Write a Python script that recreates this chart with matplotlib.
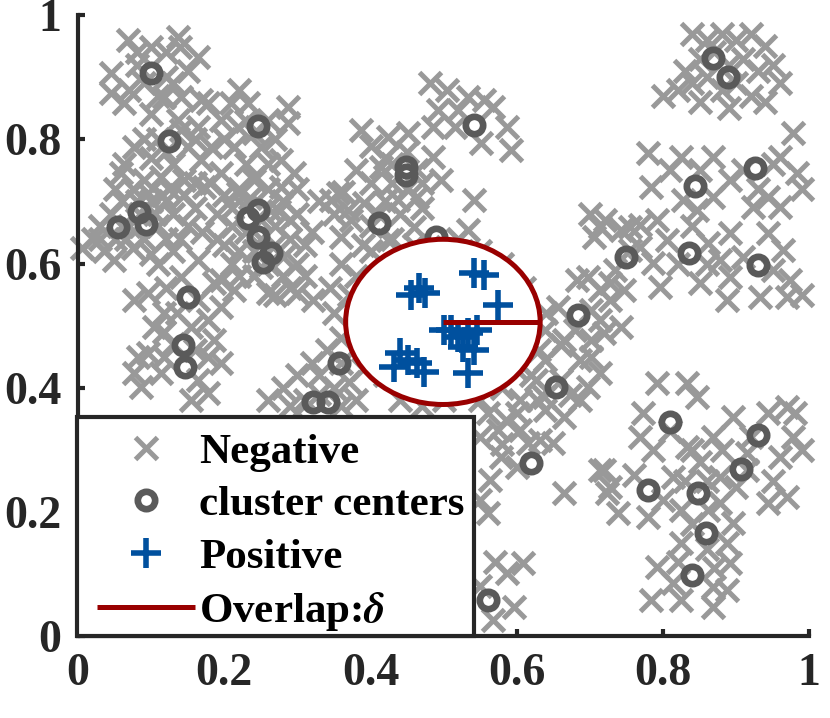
import matplotlib
matplotlib.use("Agg")
import matplotlib.pyplot as plt
from matplotlib.patches import Circle, Rectangle

plt.rcParams['font.family'] = ['Liberation Serif', 'DejaVu Serif']
plt.rcParams['font.weight'] = 'bold'
plt.rcParams['mathtext.fontset'] = 'stix'

# ---------------- data ----------------
neg_top_left = [(0.068,0.96),(0.10,0.948),(0.12,0.94),(0.137,0.965),(0.14,0.948),(0.164,0.932),(0.08,0.92),
                (0.045,0.906),(0.045,0.874),(0.063,0.858),(0.09,0.89),(0.12,0.90),(0.141,0.868),(0.168,0.863),
                (0.11,0.87),(0.117,0.868),(0.07,0.88),(0.15,0.91),(0.178,0.858),(0.10,0.84),(0.13,0.89),(0.08,0.94)]
neg_upper_left = [(0.077,0.787),(0.063,0.761),(0.141,0.815),(0.164,0.82),(0.182,0.787),(0.15,0.787),(0.168,0.767),
                  (0.137,0.831),(0.059,0.746),(0.096,0.713),(0.113,0.739),(0.145,0.734),(0.172,0.723),(0.195,0.746),
                  (0.219,0.713),(0.24,0.734),(0.277,0.723),(0.295,0.746),(0.11,0.80),(0.10,0.77),(0.13,0.76),(0.12,0.78),
                  (0.22,0.88),(0.209,0.858),(0.232,0.858),(0.195,0.831),(0.219,0.82),(0.26,0.831),(0.287,0.852),
                  (0.287,0.826),(0.213,0.787),(0.25,0.787),(0.277,0.767),(0.24,0.81),(0.27,0.80),(0.23,0.83),(0.346,0.702),
                  (0.26,0.76),(0.23,0.76),(0.20,0.80),(0.09,0.80),(0.16,0.80)]
neg_mid_left = [(0.005,0.625),(0.02,0.64),(0.035,0.62),(0.03,0.66),(0.05,0.64),(0.045,0.68),(0.06,0.70),(0.075,0.72),
                (0.09,0.735),(0.07,0.66),(0.10,0.70),(0.12,0.70),(0.11,0.66),(0.13,0.68),(0.125,0.72),(0.145,0.71),
                (0.09,0.64),(0.075,0.625),(0.10,0.615),(0.12,0.64),(0.15,0.66),(0.16,0.69),(0.085,0.68),(0.06,0.66),
                (0.049,0.605),(0.16,0.73),(0.05,0.72),(0.13,0.62),(0.11,0.60),(0.08,0.70),(0.105,0.68),(0.14,0.64),
                (0.065,0.64),(0.03,0.64),(0.115,0.71)]
neg_mid = [(0.18,0.73),(0.20,0.71),(0.22,0.72),(0.24,0.74),(0.26,0.72),(0.28,0.70),(0.30,0.72),(0.29,0.67),(0.27,0.66),
           (0.25,0.67),(0.23,0.69),(0.21,0.66),(0.19,0.68),(0.17,0.65),(0.20,0.63),(0.22,0.62),(0.24,0.62),(0.26,0.60),
           (0.28,0.58),(0.30,0.60),(0.31,0.63),(0.29,0.56),(0.27,0.55),(0.24,0.58),(0.22,0.58),(0.32,0.65),(0.25,0.64),
           (0.27,0.63),(0.23,0.65),(0.26,0.69),(0.30,0.68),(0.21,0.69),(0.164,0.605),(0.195,0.573),(0.213,0.557),
           (0.322,0.541),(0.30,0.552),(0.26,0.552),(0.33,0.70),(0.35,0.68),(0.28,0.61),(0.29,0.64),(0.21,0.60),
           (0.25,0.595),(0.31,0.58),(0.19,0.64),(0.235,0.705),(0.275,0.685)]
neg_low_left = [(0.077,0.541),(0.096,0.552),(0.141,0.578),(0.186,0.568),(0.195,0.53),(0.178,0.509),(0.117,0.52),
                (0.104,0.498),(0.154,0.498),(0.186,0.477),(0.096,0.456),(0.082,0.449),(0.178,0.449),(0.195,0.44),
                (0.077,0.424),(0.113,0.424),(0.086,0.401),(0.164,0.412),(0.178,0.391),(0.154,0.38),(0.117,0.449),
                (0.117,0.49),(0.164,0.541),(0.12,0.56),(0.13,0.47),(0.16,0.46),(0.135,0.52)]
neg_low_mid = [(0.26,0.38),(0.28,0.40),(0.30,0.42),(0.32,0.44),(0.34,0.46),(0.36,0.44),(0.37,0.41),(0.35,0.40),
               (0.33,0.39),(0.31,0.38),(0.29,0.37),(0.36,0.37),(0.38,0.38),(0.39,0.43),(0.33,0.42),(0.30,0.36)]
neg_center_top = [(0.387,0.815),(0.424,0.804),(0.451,0.81),(0.414,0.755),(0.464,0.75),(0.486,0.771),(0.496,0.734),
                  (0.363,0.715),(0.391,0.697),(0.437,0.702),(0.464,0.707),(0.541,0.702),(0.373,0.670),(0.459,0.659),
                  (0.533,0.654),(0.359,0.642),(0.424,0.638),(0.505,0.626),(0.482,0.89),(0.505,0.879),(0.533,0.868),
                  (0.555,0.863),(0.568,0.852),(0.587,0.82),(0.592,0.783),(0.551,0.794),(0.492,0.847),(0.486,0.82),
                  (0.519,0.847),(0.42,0.77),(0.43,0.73),(0.40,0.73),(0.44,0.68),(0.41,0.68),(0.39,0.63),(0.47,0.69),
                  (0.40,0.79),(0.45,0.78),(0.47,0.73),(0.38,0.75),(0.355,0.713),(0.369,0.686),(0.43,0.76),
                  (0.42,0.70),(0.45,0.72),(0.40,0.66),(0.515,0.82)]
neg_around_ring = [(0.36,0.60),(0.38,0.58),(0.37,0.55),(0.39,0.50),(0.36,0.48),(0.40,0.45),(0.42,0.42),(0.44,0.38),
                   (0.40,0.62),(0.43,0.64),(0.46,0.63),(0.52,0.64),(0.55,0.62),(0.58,0.60),(0.61,0.56),(0.64,0.52),
                   (0.63,0.46),(0.62,0.42),(0.58,0.40),(0.55,0.38),(0.50,0.38),(0.47,0.37),(0.35,0.52),(0.345,0.56)]
neg_diagonal = [(0.585,0.348),(0.605,0.380),(0.626,0.412),(0.639,0.444),(0.660,0.469),(0.680,0.493),(0.701,0.525),
                (0.714,0.557),(0.735,0.589),(0.755,0.622),(0.714,0.509),(0.728,0.541),(0.660,0.412),(0.687,0.444),
                (0.639,0.493),(0.742,0.654),(0.769,0.662),(0.701,0.477),(0.673,0.388),(0.639,0.364),(0.605,0.332),
                (0.632,0.316),(0.683,0.573),(0.656,0.53),(0.664,0.477),(0.601,0.428),(0.637,0.385),(0.664,0.353),
                (0.714,0.659),(0.705,0.643),(0.755,0.659),(0.728,0.568),(0.746,0.557),(0.697,0.578),(0.719,0.488),
                (0.742,0.498),(0.701,0.449),(0.714,0.424),(0.697,0.401),(0.70,0.68),(0.72,0.67)]
neg_right_mid = [(0.779,0.778),(0.783,0.723),(0.824,0.771),(0.869,0.771),(0.978,0.81),(0.96,0.771),(0.983,0.746),
                 (0.943,0.707),(0.96,0.691),(0.892,0.734),(0.869,0.707),(0.828,0.702),(0.847,0.686),(0.892,0.649),
                 (0.943,0.649),(0.878,0.605),(0.892,0.578),(0.851,0.568),(0.888,0.541),(0.933,0.546),(0.970,0.546),
                 (0.974,0.573),(0.964,0.622),(0.787,0.601),(0.796,0.562),(0.769,0.627),(0.806,0.638),(0.861,0.633),
                 (0.792,0.67),(0.923,0.691),(0.81,0.75),(0.85,0.75),(0.91,0.75),(0.95,0.76),(0.82,0.60),(0.86,0.60),
                 (0.91,0.61),(0.95,0.59),(0.99,0.55),(0.93,0.72),(0.84,0.66),(0.99,0.72)]
neg_top_right = [(0.84,0.97),(0.86,0.96),(0.88,0.97),(0.90,0.96),(0.92,0.97),(0.94,0.95),(0.85,0.93),(0.87,0.94),
                 (0.91,0.93),(0.93,0.91),(0.95,0.92),(0.96,0.89),(0.83,0.91),(0.82,0.88),(0.84,0.89),(0.86,0.90),
                 (0.88,0.88),(0.90,0.89),(0.92,0.87),(0.94,0.86),(0.89,0.85),(0.85,0.86),(0.80,0.87),(0.89,0.92)]
neg_low_right = [(0.792,0.407),(0.833,0.407),(0.847,0.385),(0.773,0.359),(0.769,0.32),(0.787,0.30),(0.97,0.369),
                 (0.943,0.359),(0.978,0.32),(0.96,0.288),(0.97,0.224),(0.943,0.214),(0.714,0.267),(0.728,0.24),
                 (0.738,0.198),(0.779,0.192),(0.814,0.256),(0.824,0.203),(0.878,0.214),(0.896,0.182),(0.824,0.15),
                 (0.888,0.15),(0.792,0.111),(0.814,0.085),(0.783,0.058),(0.824,0.058),(0.869,0.047),(0.869,0.079),
                 (0.888,0.074),(0.892,0.118),(0.861,0.203),(0.878,0.256),(0.915,0.267),(0.833,0.304),(0.869,0.32),
                 (0.896,0.353),(0.915,0.295),(0.81,0.33),(0.85,0.28),(0.83,0.25),(0.80,0.22),(0.88,0.30),(0.92,0.32),
                 (0.95,0.25),(0.99,0.30),(0.86,0.14),(0.84,0.18),(0.87,0.11),(0.82,0.12),(0.76,0.26),(0.98,0.36),
                 (0.86,0.25),(0.90,0.24),(0.84,0.30)]
neg_bottom_mid = [(0.574,0.332),(0.601,0.359),(0.628,0.38),(0.687,0.38),(0.650,0.311),(0.578,0.288),(0.564,0.251),
                  (0.56,0.198),(0.664,0.23),(0.719,0.267),(0.724,0.23),(0.587,0.101),(0.609,0.117),(0.596,0.047),
                  (0.568,0.026),(0.615,0.311),(0.601,0.272),(0.55,0.32),(0.56,0.36),(0.58,0.31),(0.55,0.08),
                  (0.57,0.12),(0.55,0.22)]

center_x = [0.100,0.124,0.246,0.055,0.083,0.093,0.232,0.246,0.246,0.264,0.253,0.150,0.143,0.146,0.321,0.342,0.357,
            0.541,0.449,0.449,0.411,0.490,0.684,0.653,0.619,0.561,0.869,0.889,0.926,0.844,0.749,0.835,0.930,0.810,
            0.930,0.906,0.779,0.848,0.859,0.840]
center_y = [0.907,0.797,0.821,0.659,0.683,0.663,0.673,0.686,0.643,0.617,0.602,0.546,0.469,0.433,0.377,0.377,0.440,
            0.823,0.755,0.742,0.665,0.643,0.517,0.401,0.279,0.058,0.931,0.900,0.754,0.725,0.610,0.617,0.597,0.345,
            0.324,0.269,0.235,0.231,0.166,0.098]

pos_x = [0.466,0.455,0.475,0.541,0.555,0.574,0.500,0.519,0.533,0.546,0.527,0.541,0.441,0.451,0.432,0.464,0.473,0.533,0.510]
pos_y = [0.560,0.549,0.552,0.585,0.581,0.533,0.493,0.481,0.488,0.493,0.465,0.461,0.456,0.444,0.433,0.440,0.425,0.423,0.493]

ring_center = (0.499, 0.506)
ring_radius = 0.133

labels = ['Negative', 'cluster centers', 'Positive', r'Overlap:$\delta$']
ticks = [0, 0.2, 0.4, 0.6, 0.8, 1]
tick_labels = ['0', '0.2', '0.4', '0.6', '0.8', '1']

# ---------------- plot ----------------
neg_all = (neg_top_left + neg_upper_left + neg_mid_left + neg_mid + neg_low_left + neg_low_mid +
           neg_center_top + neg_around_ring + neg_diagonal + neg_right_mid + neg_top_right +
           neg_low_right + neg_bottom_mid)
neg_x = [p[0] for p in neg_all]
neg_y = [p[1] for p in neg_all]

GRAY = '#999999'
DARK = '#5a5a5a'
BLUE = '#00509e'
RED = '#990000'
AX = '#262626'

fig = plt.figure(figsize=(8.3, 7.18), dpi=100)
ax = fig.add_axes([0.094, 0.114, 0.881, 0.865])

h_neg, = ax.plot(neg_x, neg_y, linestyle='none', marker='x', ms=16, mew=3.6, color=GRAY,
                 clip_on=False, zorder=1)
h_cen, = ax.plot(center_x, center_y, linestyle='none', marker='o', ms=12.5, mew=4.8,
                 mfc='none', mec=DARK, clip_on=False, zorder=2)
ring = Circle(ring_center, ring_radius, facecolor='white', edgecolor=RED, lw=3.6, zorder=3)
ax.add_patch(ring)
h_pos, = ax.plot(pos_x, pos_y, linestyle='none', marker='+', ms=22, mew=4.0, color=BLUE, zorder=4)
h_line, = ax.plot([ring_center[0], ring_center[0] + ring_radius], [ring_center[1], ring_center[1]],
                  color=RED, lw=3.6, zorder=5, solid_capstyle='butt')

ax.set_xlim(0, 1)
ax.set_ylim(0, 1)
for s in ['top', 'right']:
    ax.spines[s].set_visible(False)
for s in ['left', 'bottom']:
    ax.spines[s].set_linewidth(3)
    ax.spines[s].set_color(AX)
    ax.spines[s].set_zorder(6)
ax.set_xticks(ticks)
ax.set_xticklabels(tick_labels)
ax.set_yticks(ticks)
ax.set_yticklabels(tick_labels)
ax.tick_params(direction='in', length=5, width=3, color=AX, labelcolor=AX, labelsize=33)
ax.tick_params(axis='y', pad=12)
ax.tick_params(axis='x', pad=12)
for lab in ax.get_xticklabels() + ax.get_yticklabels():
    lab.set_fontweight('bold')

# legend frame (white box with dark border), drawn in figure coordinates
frame = Rectangle((0.0928, 0.1142), 0.4783, 0.3050, transform=fig.transFigure, facecolor='white',
                  edgecolor=AX, lw=3, zorder=9, clip_on=False)
ax.add_patch(frame)

leg = ax.legend([h_neg, h_cen, h_pos, h_line], labels, loc='upper left',
                bbox_to_anchor=(0.1169, 0.3976), bbox_transform=fig.transFigure,
                borderaxespad=0, frameon=False,
                prop={'family': 'Liberation Serif', 'weight': 'bold', 'size': 31},
                handlelength=2.28, handletextpad=0.09, labelspacing=0.31, borderpad=0)
leg.set_zorder(10)

fig.savefig('out.png', dpi=100)
